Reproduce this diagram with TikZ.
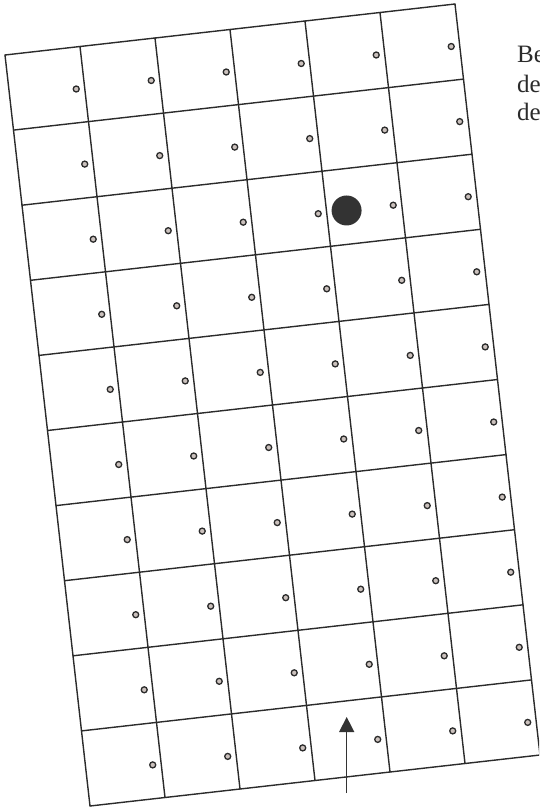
\documentclass[tikz,border=0pt]{standalone}
\usepackage{fontspec}
\setmainfont{Liberation Serif}
\usepackage{tikz}
\usetikzlibrary{arrows.meta,positioning,calc}
\definecolor{ink}{HTML}{2B2B2B}
\definecolor{dotfill}{HTML}{CBC1BD}
\definecolor{blob}{HTML}{333333}
\tikzset{
  gridline/.style={draw=ink, line width=1.4pt, line cap=round},
  smalldot/.style={draw=ink, fill=dotfill, line width=1.3pt},
  bigdot/.style={fill=blob},
  arr/.style={-{Triangle[length=15pt,width=15pt]}, line width=1.4pt, draw=blob},
  note/.style={font=\fontsize{25}{29}\selectfont, text=ink, inner sep=0pt, anchor=base west},
}

\begin{document}
\begin{tikzpicture}[x=1pt,y=-1pt]
        \useasboundingbox (0,0) rectangle (539,807);
        \clip (0,0) rectangle (539,807);
        % tilted sheet: 6 columns, 10 rows
        \begin{scope}[shift={(5,55)}, x={(75.0pt,8.5pt)}, y={(8.5pt,-75.1pt)}]
          \foreach \i in {0,...,6} \draw[gridline] (\i,0) -- (\i,10);
          \foreach \j in {0,...,10} \draw[gridline] (0,\j) -- (6,\j);
          \foreach \i in {0,...,5} \foreach \j in {0,...,9} \draw[smalldot] (\i+0.887,\j+0.553) circle[radius=3pt];
          \fill[bigdot] (4.265,2.553) circle[radius=15pt];
        \end{scope}
        \coordinate (tail) at (346.7,793);
        \coordinate (tip) at (346.7,717);
        \draw[arr] (tail) -- (tip);
        \foreach \t/\y [count=\k] in {Be/62, de/92.5, de/120.5} \node[note] (note\k) at (517,\y) {\t};
      \end{tikzpicture}
\end{document}
